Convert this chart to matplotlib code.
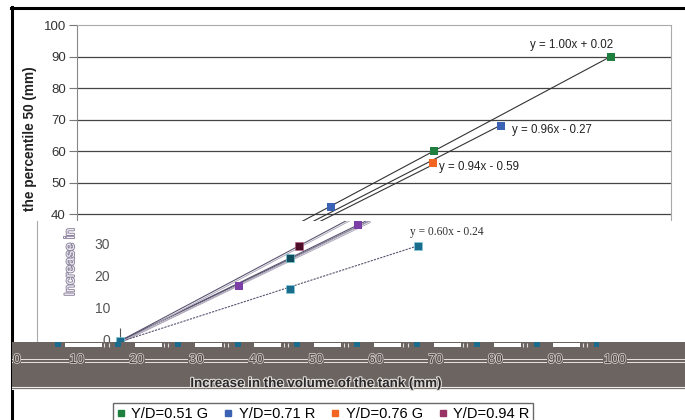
import numpy as np
import matplotlib
matplotlib.use("Agg")
import matplotlib.pyplot as plt
from matplotlib.lines import Line2D
from matplotlib.patches import Rectangle
import matplotlib.patheffects as pe

plt.rcParams['font.family'] = ['Liberation Sans', 'DejaVu Sans']

W, H = 685, 420

# upper chart: median (percentile 50) against increase in tank volume
labels = ["Y/D=0.51 G", "Y/D=0.71 R", "Y/D=0.76 G", "Y/D=0.94 R"]
colors = ["#1f7f3e", "#3b62b5", "#f26522", "#993366"]
green_x = [60.0, 90.0]
green_y = [60.0, 89.8]
blue_x = [42.5, 71.4]
blue_y = [42.2, 67.9]
orange_x = [59.8]
orange_y = [56.2]
fits = {"green": (1.00, 0.02), "blue": (0.96, -0.27), "orange": (0.94, -0.59)}
fit_text = {"green": "y = 1.00x + 0.02", "blue": "y = 0.96x - 0.27",
            "orange": "y = 0.94x - 0.59"}

# lower (inset) chart
teal_x = [0.0, 28.5, 50.0]
teal_y = [0.0, 16.2, 29.7]
purple_x = [20.0, 40.0]
purple_y = [17.2, 36.2]
navy_x = [28.5]
navy_y = [25.9]
wine_x = [30.0]
wine_y = [29.7]
teal_fit = (0.60, -0.24)

band_ticks = [0, 10, 20, 30, 40, 50, 60, 70, 80, 90, 100]


def px_rect(l, t, r, b):
    return [l / W, 1 - b / H, (r - l) / W, (b - t) / H]


fig = plt.figure(figsize=(W / 100, H / 100), dpi=100)
fig.patch.set_facecolor("white")

# ---------- upper axes ----------
ax1 = fig.add_axes(px_rect(77, 25, 671, 221), zorder=1)
ax1.set_xlim(-0.5, 100.2)
ax1.set_ylim(37.8, 100)
ax1.set_yticks(range(40, 101, 10))
ax1.tick_params(axis="y", length=6, width=0.8, color="#777", labelsize=9.5,
                labelcolor="#333", pad=2)
ax1.set_xticks([])
for s in ["top", "right"]:
    ax1.spines[s].set_color("#aaaaaa")
ax1.spines["left"].set_color("#888888")
ax1.spines["bottom"].set_visible(False)
for v in range(40, 100, 10):
    ax1.axhline(v, color="#444444", lw=0.9, zorder=1)

for key, xs, ys, c in [("green", green_x, green_y, colors[0]),
                       ("blue", blue_x, blue_y, colors[1]),
                       ("orange", orange_x, orange_y, colors[2])]:
    m, b = fits[key]
    xx = np.array([0, max(xs)])
    ax1.plot(xx, m * xx + b, color="#333333", lw=0.8, zorder=2)
    ax1.scatter(xs, ys, marker="s", s=30, color=c, zorder=3, linewidths=0)

ax1.annotate(fit_text["green"], (green_x[-1], green_y[-1]), xytext=(-81, 12),
             textcoords="offset pixels", ha="left", va="center", fontsize=8.3,
             color="#222")
ax1.annotate(fit_text["blue"], (blue_x[-1], blue_y[-1]), xytext=(11, -4),
             textcoords="offset pixels", ha="left", va="center", fontsize=8.3,
             color="#222")
ax1.annotate(fit_text["orange"], (orange_x[-1], orange_y[-1]), xytext=(6, -4),
             textcoords="offset pixels", ha="left", va="center", fontsize=8.3,
             color="#222")

fig.text(30 / W, 1 - 139 / H, "the percentile 50 (mm)", rotation=90,
         ha="center", va="center", fontsize=9.8, fontweight="bold", color="#222")

# ---------- lower axes ----------
ax2 = fig.add_axes(px_rect(37, 221, 685, 343), zorder=2)
ax2.set_facecolor("white")
ax2.set_xlim(-13.93, 94.8)
ax2.set_ylim(-0.625, 37.5)
ax2.set_xticks([])
ax2.set_yticks([])
for s in ["top", "right", "bottom"]:
    ax2.spines[s].set_visible(False)
ax2.spines["left"].set_color("#aaaaaa")

line_col = "#5a5470"
for xs, ys in [(purple_x, purple_y), (navy_x, navy_y), (wine_x, wine_y)]:
    xs_a, ys_a = np.array(xs), np.array(ys)
    slope = (xs_a * ys_a).sum() / (xs_a ** 2).sum()
    xx = np.array([0, 42])
    ax2.plot(xx, slope * xx, color=line_col, lw=0.8, zorder=2)
    ax2.plot(xx, slope * xx - 0.6, color="#b0aabb", lw=0.7, zorder=2)
xx = np.array([0, max(teal_x)])
ax2.plot(xx, teal_fit[0] * xx + teal_fit[1], color=line_col, lw=0.8,
         ls=(0, (2, 1)), zorder=2)

ax2.scatter(teal_x, teal_y, marker="s", s=34, color="#1b6c8c", zorder=3,
            edgecolors="#7fd0e0", linewidths=0.4, clip_on=False)
ax2.scatter(purple_x, purple_y, marker="s", s=34, color="#7b3fa6", zorder=3,
            linewidths=0)
ax2.scatter(navy_x, navy_y, marker="s", s=34, color="#0e4d5e", zorder=3,
            edgecolors="#7fd0e0", linewidths=0.4)
ax2.scatter(wine_x, wine_y, marker="s", s=34, color="#4e0f2a", zorder=3,
            edgecolors="#b06080", linewidths=0.4)
ax2.vlines(0, 0, 4, color="#555", lw=0.8)

ax2.annotate("y = 0.60x - 0.24", (teal_x[-1], teal_y[-1]), xytext=(-8, 14),
             textcoords="offset pixels", ha="left", va="center", fontsize=8.3,
             color="#333", family=["Liberation Serif", "DejaVu Serif"])

trans = matplotlib.transforms.blended_transform_factory(fig.transFigure, ax2.transData)
for v in [0, 10, 20, 30]:
    ax2.text(110 / W, v, str(v), transform=trans, ha="right", va="center",
             fontsize=10, color="#555")
ax2.text(70 / W, 1 - 262 / H, "Increase in", transform=fig.transFigure,
         rotation=90, ha="center", va="center", fontsize=10, color="#f4f2f8",
         path_effects=[pe.withStroke(linewidth=1.4, foreground="#9088a0")])

# ---------- bottom band with the x scale ----------
ax3 = fig.add_axes(px_rect(12, 342, 685, 390), zorder=3)
ax3.set_facecolor("#6b6461")
ax3.set_xlim(-0.84, 111.7)
ax3.set_ylim(0, 48)
ax3.invert_yaxis()
ax3.set_xticks([])
ax3.set_yticks([])
for s in ax3.spines.values():
    s.set_visible(False)

for k in range(10):
    t = 6.9 + 10 * k
    if k >= 1:
        ax3.add_patch(Rectangle((t - 8.8 if k == 1 else t - 7.2, 0.5), 4.5 if k > 1 else 6.1,
                                4, color="white", lw=0))
        ax3.vlines([t - 2.3, t - 1.6], 0.5, 4.5, color="#dddddd", lw=0.8)
    ax3.add_patch(Rectangle((t - 0.5, 0.3), 1.0, 4.2, color="#1b6c8c", lw=0))

ax3.hlines([17, 19.5], -1, 112, color="#e8e4e2", lw=0.7)
ax3.hlines([44.5, 46.8], -1, 112, color="#f0eeec", lw=0.8)
for t in band_ticks:
    ax3.text(t, 18, str(t), ha="center", va="center", fontsize=9.5,
             color="#4a4444",
             bbox=dict(facecolor="#6b6461", edgecolor="none", pad=0.5),
             path_effects=[pe.withStroke(linewidth=1.2, foreground="#cfc8c4")])
ax3.text(50, 42, "Increase in the volume of the tank (mm)", ha="center",
         va="center", fontsize=9.6, fontweight="bold", color="#2a2828",
         path_effects=[pe.withStroke(linewidth=1.6, foreground="#e0dcda")])

# ---------- legend ----------
handles = [Line2D([], [], marker="s", ls="none", color=c, markersize=5)
           for c in colors]
fig.legend(handles, labels, loc="upper center",
           bbox_to_anchor=(323 / W, 1 - 403 / H), ncol=4, frameon=True,
           fancybox=False, edgecolor="#444444", fontsize=10.5,
           handlelength=0.6, handletextpad=0.4, columnspacing=1.1,
           borderpad=0.25, borderaxespad=0)

# outer frame
fig.add_artist(Line2D([11 / W, 1], [1 - 7.5 / H] * 2, color="black", lw=2.2,
                      transform=fig.transFigure))
fig.add_artist(Line2D([12 / W] * 2, [0, 1 - 6.5 / H], color="black", lw=2.2,
                      transform=fig.transFigure))

fig.savefig("out.png", dpi=100)
